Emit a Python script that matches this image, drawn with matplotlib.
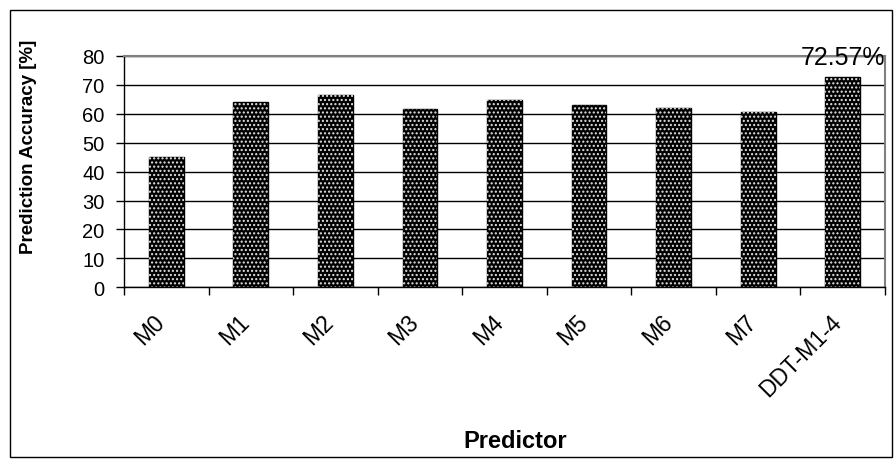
import numpy as np
import matplotlib.pyplot as plt
from matplotlib.patches import Rectangle
from matplotlib.transforms import ScaledTranslation

plt.rcParams['font.family'] = ['Liberation Sans', 'DejaVu Sans']
plt.rcParams['hatch.linewidth'] = 1.0

# prediction accuracy per predictor
predictors = ['M0', 'M1', 'M2', 'M3', 'M4', 'M5', 'M6', 'M7', 'DDT-M1-4']
accuracy = [45.2, 64.0, 66.5, 61.5, 64.8, 63.1, 62.0, 60.8, 72.57]
yticks = [0, 10, 20, 30, 40, 50, 60, 70, 80]

fig = plt.figure(figsize=(8.94, 4.6), dpi=100)

# outer chart border
fig.patches.append(Rectangle((10 / 894, 2 / 460), 882 / 894, 447 / 460,
                             transform=fig.transFigure, fill=False,
                             edgecolor='black', linewidth=1.0))

ax = fig.add_axes([124 / 894, 171.7 / 460, 761 / 894, 231.3 / 460])

x = np.arange(len(predictors))
ax.bar(x, accuracy, width=0.41, color='black', edgecolor='black',
       linewidth=1.0, zorder=3)
ax.bar(x, accuracy, width=0.41, facecolor='none', edgecolor='#e4e4e4',
       linewidth=0, hatch='....', zorder=4)

# value label on the best predictor
best = len(accuracy) - 1
ax.annotate(f'{accuracy[best]:.2f}%', (x[best], accuracy[best]),
            xytext=(0, 15), textcoords='offset points',
            ha='center', va='center', fontsize=18, annotation_clip=False,
            zorder=5)

ax.set_xlim(-0.5, len(predictors) - 0.5)
ax.set_ylim(0, 80)
ax.set_yticks(yticks)
ax.yaxis.grid(True, color='black', linewidth=1.0, zorder=0)
ax.set_axisbelow(True)

ax.set_xticks(x)
ax.set_xticklabels(predictors, rotation=45, ha='right', va='center',
                   rotation_mode='anchor', fontsize=16.5)
ax.set_xticks(np.arange(-0.5, len(predictors)), minor=True)
ax.tick_params(axis='x', which='major', length=0, pad=22)
ax.tick_params(axis='x', which='minor', length=6, width=1.0, direction='out')
ax.tick_params(axis='y', length=6, width=1.0, direction='out', pad=8,
               labelsize=14.5)

# nudge the slanted labels a little to the left
shift = ScaledTranslation(-5 / 100, 0, fig.dpi_scale_trans)
for lbl in ax.get_xticklabels():
    lbl.set_transform(lbl.get_transform() + shift)

for side in ['left', 'bottom']:
    ax.spines[side].set_color('black')
    ax.spines[side].set_linewidth(1.0)
for side in ['top', 'right']:
    ax.spines[side].set_color('#808080')
    ax.spines[side].set_linewidth(1.5)

ax.set_ylabel('Prediction Accuracy [%]', fontsize=13.5, fontweight='bold')
ax.yaxis.set_label_coords(-0.114, 0.613)
ax.set_xlabel('Predictor', fontsize=17, fontweight='bold', va='center')
ax.xaxis.set_label_coords(0.514, -0.664)

fig.savefig('out.png', dpi=100)
